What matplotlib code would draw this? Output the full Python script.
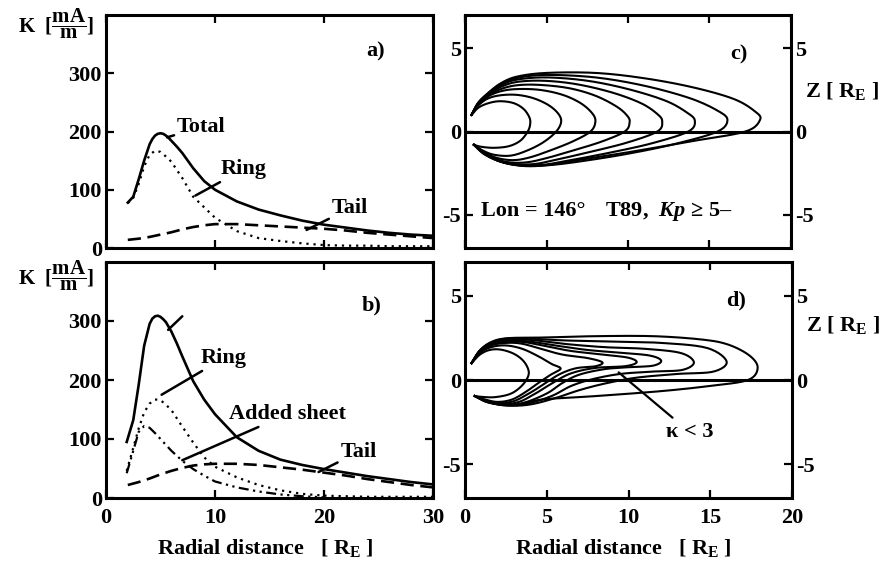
import numpy as np
import matplotlib
matplotlib.use("Agg")
import matplotlib.pyplot as plt

plt.rcParams['font.family'] = ['Liberation Serif', 'DejaVu Serif']
plt.rcParams['font.weight'] = 'bold'
plt.rcParams['axes.unicode_minus'] = False
plt.rcParams['mathtext.fontset'] = 'custom'
plt.rcParams['mathtext.rm'] = 'Liberation Serif:weight=bold'
plt.rcParams['mathtext.it'] = 'Liberation Serif:style=italic:weight=bold'
plt.rcParams['mathtext.bf'] = 'Liberation Serif:weight=bold'

# ---------------- sheet current densities K [mA/m] vs radial distance ----------
# panel a)
a_total_r = [2, 2.5, 3, 3.5, 4, 4.25, 4.5, 4.75, 5, 5.25, 5.5, 5.75, 6, 6.5, 7, 8, 9, 10, 12, 14, 16, 18,
             20, 22, 24, 26, 28, 30]
a_total_k = [78, 88, 118, 150, 178, 187, 193, 196, 197, 196, 193, 189, 184, 174, 163, 137, 115, 100, 80,
             66, 56, 47, 40, 35, 30, 26, 23, 21]
a_ring_r = [2, 2.5, 3, 3.5, 4, 4.5, 5, 5.5, 6, 7, 8, 9, 10, 12, 14, 16, 18, 20, 22, 24, 26, 28, 30]
a_ring_k = [77, 86, 110, 140, 160, 167, 165, 157, 148, 120, 88, 70, 52, 29, 17, 12, 8, 5, 4, 4, 3, 3, 3]
a_tail_r = [2, 3, 4, 5, 6, 7, 8, 9, 10, 12, 14, 16, 18, 20, 22, 24, 26, 28, 30]
a_tail_k = [14, 16, 19, 23, 27, 32, 36, 39, 41, 41, 39, 37, 35, 33, 30, 26, 23, 20, 17]

# panel b)
b_total_r = [1.9, 2.5, 3, 3.5, 4, 4.25, 4.5, 4.75, 5, 5.25, 5.5, 6, 6.5, 7, 8, 9, 10, 12, 14, 16, 18, 20,
             22, 24, 26, 28, 30]
b_total_k = [95, 132, 192, 258, 295, 304, 308, 309, 307, 303, 298, 282, 262, 240, 198, 167, 142, 103, 80,
             65, 56, 49, 43, 37, 32, 27, 23]
b_ring_r = [1.9, 2.5, 3, 3.5, 4, 4.5, 5, 5.5, 6, 7, 8, 9, 10, 12, 14, 16, 18, 20, 22, 24, 26, 28, 30]
b_ring_k = [46, 85, 118, 145, 160, 167, 166, 158, 149, 121, 94, 69, 53, 35, 22, 13, 7, 4, 3, 2, 2, 2, 2]
b_sheet_r = [1.9, 2.5, 3, 3.5, 4, 4.5, 5, 5.5, 6, 7, 8, 9, 10, 12, 14, 16, 18, 20]
b_sheet_k = [42, 80, 112, 122, 119, 110, 100, 90, 80, 63, 49, 38, 28, 18, 11, 6, 3, 1]
b_tail_r = [2, 3, 4, 5, 6, 7, 8, 9, 10, 12, 14, 16, 18, 20, 22, 24, 26, 28, 30]
b_tail_k = [22, 27, 33, 40, 46, 51, 55, 57, 58, 58, 56, 52, 48, 43, 38, 32, 27, 22, 18]

# ---------------- traced field lines (X, Z) in R_E ------------------------------
lines_c = [
    [(0.4, 1.0), (0.85, 1.45), (1.5, 1.72), (2.2, 1.82), (3.0, 1.7), (3.6, 1.35), (3.95, 0.85),
     (4.0, 0.45), (3.85, 0.0), (3.4, -0.55), (2.7, -0.88), (1.8, -0.98), (1.0, -0.92), (0.55, -0.8)],
    [(0.4, 1.0), (0.8, 1.55), (1.4, 1.98), (2.2, 2.18), (3.2, 2.2), (4.2, 2.0), (5.1, 1.6), (5.7, 1.1),
     (5.9, 0.6), (5.6, 0.0), (4.8, -0.65), (3.8, -1.15), (2.8, -1.45), (1.8, -1.4), (1.1, -1.15), (0.55, -0.8)],
    [(0.4, 1.0), (0.8, 1.6), (1.4, 2.1), (2.2, 2.42), (3.2, 2.55), (4.6, 2.5), (6.0, 2.2), (7.1, 1.7),
     (7.8, 1.1), (8.0, 0.6), (7.7, 0.0), (6.6, -0.6), (5.2, -1.15), (4.0, -1.55), (3.0, -1.72), (2.0, -1.6),
     (1.2, -1.25), (0.55, -0.8)],
    [(0.4, 1.0), (0.8, 1.62), (1.4, 2.15), (2.2, 2.55), (3.2, 2.78), (4.6, 2.8), (6.4, 2.6), (8.0, 2.15),
     (9.3, 1.5), (9.95, 0.95), (10.1, 0.55), (9.8, 0.0), (8.4, -0.6), (6.6, -1.15), (5.0, -1.6), (3.8, -1.85),
     (2.7, -1.85), (1.8, -1.62), (1.1, -1.25), (0.55, -0.8)],
    [(0.4, 1.0), (0.8, 1.65), (1.4, 2.2), (2.2, 2.68), (3.2, 2.98), (4.8, 3.05), (6.8, 2.85), (9.0, 2.35),
     (10.8, 1.7), (11.8, 1.05), (12.1, 0.6), (11.8, 0.0), (10.0, -0.65), (7.8, -1.2), (5.8, -1.65),
     (4.3, -1.95), (3.0, -1.95), (2.0, -1.72), (1.2, -1.3), (0.55, -0.8)],
    [(0.4, 1.0), (0.8, 1.68), (1.4, 2.25), (2.2, 2.78), (3.2, 3.12), (5.0, 3.25), (7.5, 3.05), (10.0, 2.55),
     (12.3, 1.85), (13.6, 1.15), (14.1, 0.65), (13.7, 0.0), (11.5, -0.7), (9.0, -1.25), (6.6, -1.7),
     (4.8, -2.0), (3.3, -2.02), (2.1, -1.78), (1.2, -1.32), (0.55, -0.8)],
    [(0.4, 1.0), (0.8, 1.7), (1.4, 2.28), (2.2, 2.85), (3.2, 3.22), (5.0, 3.4), (8.0, 3.25), (11.0, 2.75),
     (13.8, 2.0), (15.5, 1.25), (16.1, 0.7), (15.5, 0.0), (13.0, -0.72), (10.2, -1.3), (7.4, -1.75),
     (5.2, -2.02), (3.5, -2.05), (2.2, -1.82), (1.2, -1.35), (0.55, -0.8)],
    [(0.4, 1.0), (0.8, 1.72), (1.4, 2.3), (2.2, 2.9), (3.2, 3.3), (5.0, 3.52), (8.0, 3.52), (11.0, 3.2),
     (14.0, 2.65), (16.5, 1.95), (17.8, 1.2), (18.1, 0.7), (17.2, 0.0), (14.0, -0.57), (10.0, -1.25),
     (7.0, -1.7), (5.2, -2.0), (3.7, -2.08), (2.3, -1.85), (1.2, -1.38), (0.55, -0.8)],
]

lines_d = [
    [(0.4, 1.0), (0.9, 1.5), (1.5, 1.78), (2.2, 1.8), (3.0, 1.55), (3.6, 1.1), (3.9, 0.5), (3.75, 0.0),
     (3.3, -0.5), (2.7, -0.85), (1.8, -1.02), (1.0, -1.0), (0.6, -0.95)],
    [(0.4, 1.0), (0.9, 1.6), (1.6, 1.95), (2.5, 2.05), (3.5, 1.85), (4.5, 1.4), (5.3, 0.95), (5.85, 0.68),
     (5.3, 0.35), (4.6, -0.1), (3.8, -0.65), (2.9, -1.15), (2.0, -1.3), (1.2, -1.15), (0.6, -0.95)],
    [(0.4, 1.0), (0.9, 1.65), (1.6, 2.05), (2.5, 2.2), (3.5, 2.15), (4.8, 1.8), (6.0, 1.5), (7.5, 1.3),
     (8.4, 1.05), (8.0, 0.82), (6.8, 0.7), (5.8, 0.35), (4.9, -0.2), (4.0, -0.75), (3.0, -1.25), (2.0, -1.38),
     (1.2, -1.2), (0.6, -0.95)],
    [(0.4, 1.0), (0.9, 1.68), (1.6, 2.1), (2.5, 2.28), (3.6, 2.25), (5.0, 2.0), (6.5, 1.72), (8.5, 1.5),
     (10.0, 1.32), (10.5, 1.05), (9.8, 0.82), (8.0, 0.72), (6.5, 0.4), (5.4, -0.15), (4.4, -0.75),
     (3.3, -1.3), (2.2, -1.42), (1.3, -1.22), (0.6, -0.95)],
    [(0.4, 1.0), (0.9, 1.7), (1.6, 2.15), (2.5, 2.33), (3.8, 2.3), (5.5, 2.05), (7.5, 1.78), (9.5, 1.62),
     (11.3, 1.45), (12.0, 1.15), (11.5, 0.85), (10.0, 0.76), (8.5, 0.64), (7.0, 0.32), (6.0, -0.15),
     (5.0, -0.8), (3.6, -1.35), (2.4, -1.48), (1.4, -1.28), (0.6, -0.95)],
    [(0.4, 1.0), (0.9, 1.72), (1.6, 2.2), (2.5, 2.4), (4.0, 2.38), (6.0, 2.15), (8.5, 1.95), (11.0, 1.85),
     (13.2, 1.6), (14.0, 1.05), (13.3, 0.6), (11.5, 0.5), (9.5, 0.36), (7.8, 0.05), (6.5, -0.35),
     (5.3, -0.95), (3.8, -1.4), (2.5, -1.5), (1.4, -1.3), (0.6, -0.95)],
    [(0.4, 1.0), (0.9, 1.74), (1.6, 2.22), (2.5, 2.45), (4.0, 2.45), (6.0, 2.35), (9.0, 2.28), (12.0, 2.2),
     (14.8, 1.9), (16.0, 1.1), (15.2, 0.5), (13.0, 0.36), (10.5, 0.14), (8.6, -0.2), (7.0, -0.6),
     (5.6, -1.05), (4.0, -1.45), (2.6, -1.52), (1.4, -1.32), (0.6, -0.95)],
    [(0.4, 1.0), (0.9, 1.75), (1.6, 2.25), (2.6, 2.48), (4.8, 2.52), (8.0, 2.6), (11.5, 2.6), (14.5, 2.4),
     (16.1, 2.1), (17.4, 1.45), (17.9, 0.72), (17.3, 0.0), (15.0, -0.35), (12.0, -0.66), (7.9, -0.96),
     (4.8, -1.15), (3.2, -1.45), (2.2, -1.45), (1.3, -1.3), (0.6, -0.95)],
]


def smooth_path(pts, n=14):
    """Catmull-Rom curve through the traced vertices of a field line."""
    p = np.asarray(pts, float)
    p = np.vstack([2 * p[0] - p[1], p, 2 * p[-1] - p[-2]])
    t = np.linspace(0, 1, n, endpoint=False)[:, None]
    segs = []
    for i in range(1, len(p) - 2):
        p0, p1, p2, p3 = p[i - 1], p[i], p[i + 1], p[i + 2]
        segs.append(0.5 * (2 * p1 + (p2 - p0) * t
                           + (2 * p0 - 5 * p1 + 4 * p2 - p3) * t ** 2
                           + (3 * p1 - p0 - 3 * p2 + p3) * t ** 3))
    segs.append(p[-2][None])
    return np.vstack(segs)


W, H = 883, 565
fig = plt.figure(figsize=(W / 100, H / 100), dpi=100)


def px_axes(l, t, r, b):
    return fig.add_axes([l / W, 1 - b / H, (r - l) / W, (b - t) / H])


ax_a = px_axes(106, 15, 433, 248)
ax_b = px_axes(106, 262, 433, 498)
ax_c = px_axes(465, 15, 791, 248)
ax_d = px_axes(465, 262, 792, 498)

FS = 16
for ax in (ax_a, ax_b, ax_c, ax_d):
    for s in ax.spines.values():
        s.set_linewidth(2.2)
    ax.tick_params(direction='in', length=6, width=1.6, top=True, right=True,
                   labelsize=FS)
    ax.tick_params(axis='x', pad=7)
    ax.tick_params(axis='y', pad=3)

dotted = (0, (1.0, 2.2))
dashed = (0, (5, 2.5))
dashdot = (0, (4.5, 2, 1, 2, 1, 2))

lead = dict(arrowstyle='-', color='k', lw=1.8, shrinkA=0, shrinkB=0)
txt = dict(fontsize=FS, fontweight='bold', va='center', ha='left')

# ---- panel a ----
ax_a.plot(a_total_r, a_total_k, color='k', lw=1.9)
ax_a.plot(a_ring_r, a_ring_k, color='k', lw=1.6, ls=dotted)
ax_a.plot(a_tail_r, a_tail_k, color='k', lw=1.9, ls=dashed)
ax_a.set_xlim(0, 30)
ax_a.set_ylim(0, 400)
ax_a.set_xticks([0, 10, 20, 30])
ax_a.set_xticklabels([])
ax_a.set_yticks([0, 100, 200, 300])
ax_a.text(23.9, 337, 'a)', **txt)
ax_a.annotate('Total', xy=(5.6, 190), xytext=(6.5, 207), arrowprops=lead, **txt)
ax_a.annotate('Ring', xy=(8.2, 90), xytext=(10.5, 135), arrowprops=lead, **txt)
ax_a.annotate('Tail', xy=(18.4, 31), xytext=(20.7, 68), arrowprops=lead, **txt)

# ---- panel b ----
ax_b.plot(b_total_r, b_total_k, color='k', lw=1.9)
ax_b.plot(b_ring_r, b_ring_k, color='k', lw=1.6, ls=dotted)
ax_b.plot(b_sheet_r, b_sheet_k, color='k', lw=1.6, ls=dashdot)
ax_b.plot(b_tail_r, b_tail_k, color='k', lw=1.9, ls=dashed)
ax_b.set_xlim(0, 30)
ax_b.set_ylim(0, 400)
ax_b.set_xticks([0, 10, 20, 30])
ax_b.set_yticks([0, 100, 200, 300])
ax_b.text(23.5, 327, 'b)', **txt)
ax_b.annotate('', xy=(5.7, 285), xytext=(7.0, 308), arrowprops=lead)
ax_b.annotate('Ring', xy=(5.1, 175), xytext=(8.7, 237), arrowprops=lead, **txt)
ax_b.annotate('Added sheet', xy=(7.0, 64), xytext=(11.3, 142), arrowprops=lead, **txt)
ax_b.annotate('Tail', xy=(19.5, 44), xytext=(21.5, 78), arrowprops=lead, **txt)

# ---- panels c, d: field lines ----
for ax, lines in ((ax_c, lines_c), (ax_d, lines_d)):
    for ln in lines:
        xy = smooth_path(ln)
        ax.plot(xy[:, 0], xy[:, 1], color='k', lw=1.5)
    ax.axhline(0, color='k', lw=2.2)
    ax.set_xlim(0, 20)
    ax.set_ylim(-7, 7)
    ax.set_xticks([0, 5, 10, 15, 20])
    ax.set_yticks([-5, 0, 5])
    ax.tick_params(labelright=True)

ax_c.set_xticklabels([])
ax_c.text(16.3, 4.65, 'c)', **txt)
ax_d.text(16.0, 4.7, 'd)', **txt)
ax_c.text(1.0, -4.8, 'Lon = 146°', **txt)
ax_c.text(8.6, -4.8, 'T89,  $Kp$ ≥ 5–', **txt)
ax_d.annotate('κ < 3', xy=(9.4, 0.45), xytext=(12.3, -3.1),
              arrowprops=dict(arrowstyle='-', color='k', lw=1.6, shrinkA=2, shrinkB=0), **txt)

ax_c.text(1.043, 0.674, r'Z [ R$_{\rm E}$ ]', transform=ax_c.transAxes, **txt)
ax_d.text(1.043, 0.733, r'Z [ R$_{\rm E}$ ]', transform=ax_d.transAxes, **txt)

# ---- axis titles ----
klabel = r'K  [$\dfrac{\rm mA}{\rm m}$]'
fig.text(56 / W, 1 - 24 / H, klabel, fontsize=15, fontweight='bold', ha='center', va='center')
fig.text(56 / W, 1 - 276 / H, klabel, fontsize=15, fontweight='bold', ha='center', va='center')
rlabel = r'Radial distance   [ R$_{\rm E}$ ]'
fig.text(265 / W, 1 - 548 / H, rlabel, fontsize=FS, fontweight='bold', ha='center', va='center')
fig.text(623 / W, 1 - 548 / H, rlabel, fontsize=FS, fontweight='bold', ha='center', va='center')

fig.savefig('out.png', dpi=100)
